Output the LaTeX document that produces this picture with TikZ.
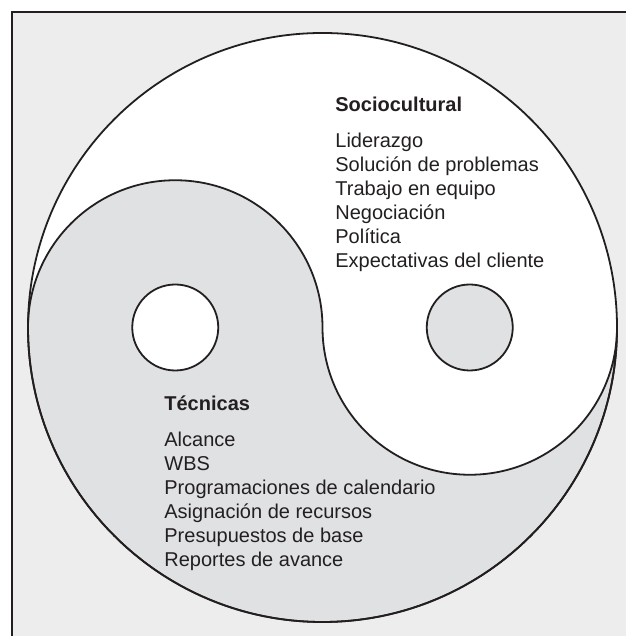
\documentclass[tikz,border=0pt]{standalone}
\usepackage{fontspec}
\setmainfont{Liberation Sans}
\definecolor{paper}{HTML}{EDEDED}
\definecolor{yin}{HTML}{E0E1E3}
\definecolor{ink}{HTML}{231F20}
\begin{document}
\begin{tikzpicture}[x=1pt, y=1pt, line width=1.8pt,
	every node/.style={ inner sep=0pt, anchor=base west, text=ink, font=\fontsize{20}{24}\selectfont },
	head/.style={ font=\fontsize{20}{24}\selectfont\bfseries }]
		\useasboundingbox (0,0) rectangle (626,636);
		\fill[paper] (11.5,0) rectangle (626,624);
		\draw[ink, line width=2pt] (11.5,0) -- (11.5,624) -- (626,624);

		\coordinate (O) at (322.5,308.5);
		\coordinate (L) at (175.25,308.5);
		\coordinate (R) at (469.75,308.5);
		\fill[white] (O) circle (294.5);
		\filldraw[ink, fill=yin] (28,308.5) arc (180:360:294.5) arc (0:-180:147.25) arc (0:180:147.25) -- cycle;
		\draw[ink] (O) circle (294.5);
		\filldraw[ink, fill=white] (L) circle (43);
		\filldraw[ink, fill=yin] (R) circle (43);

		\node[head] (soc) at (334.5,524.3) {Sociocultural};
		\foreach \t [count=\i] in {Liderazgo, Solución de problemas, Trabajo en equipo, Negociación, Política, Expectativas del cliente}
			\node (soc\i) at (334.5,512.2-23.9*\i) {\t};

		\node[head] (tec) at (163.5,225) {Técnicas};
		\foreach \t [count=\i] in {Alcance, WBS, Programaciones de calendario, Asignación de recursos, Presupuestos de base, Reportes de avance}
			\node (tec\i) at (163.5,213-24*\i) {\t};
	\end{tikzpicture}
\end{document}
